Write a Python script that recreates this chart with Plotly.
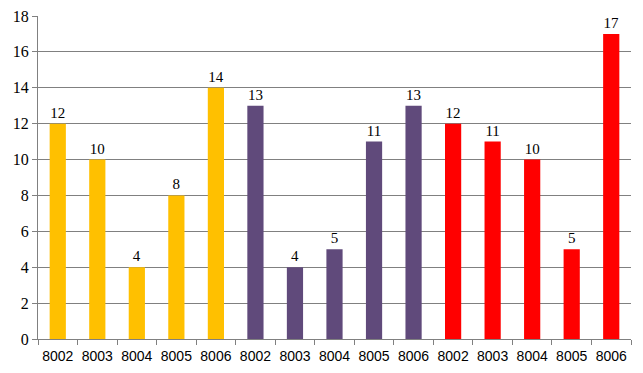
import plotly.graph_objects as go

labels = ["8002", "8003", "8004", "8005", "8006"] * 3
values = [12, 10, 4, 8, 14, 13, 4, 5, 11, 13, 12, 11, 10, 5, 17]
group_colors = ["#FFC000", "#604A7B", "#FF0000"]
colors = [group_colors[i // 5] for i in range(15)]

# unique category keys (zero-width spaces keep repeated labels distinct)
keys = [lab + "\u200b" * (i // 5) for i, lab in enumerate(labels)]

fig = go.Figure(go.Bar(
    x=keys, y=values, marker=dict(color=colors, line=dict(width=0)),
    text=[str(v) for v in values], textposition="outside",
    textfont=dict(family="Liberation Serif", size=15, color="black"),
    cliponaxis=False, width=0.41,
))

fig.update_layout(
    width=643, height=373,
    margin=dict(l=30, r=20, t=8, b=42, autoexpand=False),
    plot_bgcolor="white", paper_bgcolor="white",
    showlegend=False,
    xaxis=dict(type="category", tickson="boundaries", ticks="outside", ticklen=5,
               tickcolor="#808080", showline=True, linecolor="#808080", linewidth=1,
               showgrid=False, tickangle=0, automargin=False, ticklabelstandoff=4,
               tickfont=dict(family="Liberation Sans", size=14, color="black")),
    yaxis=dict(range=[0, 18], dtick=2, showgrid=True, gridcolor="#808080", gridwidth=1,
               showline=True, linecolor="#808080", linewidth=1, ticks="outside",
               ticklen=5, tickcolor="#808080", zeroline=False, automargin=False,
               ticklabeloverflow="allow",
               tickfont=dict(family="Liberation Serif", size=16, color="black")),
)

fig.write_html("out.html")
